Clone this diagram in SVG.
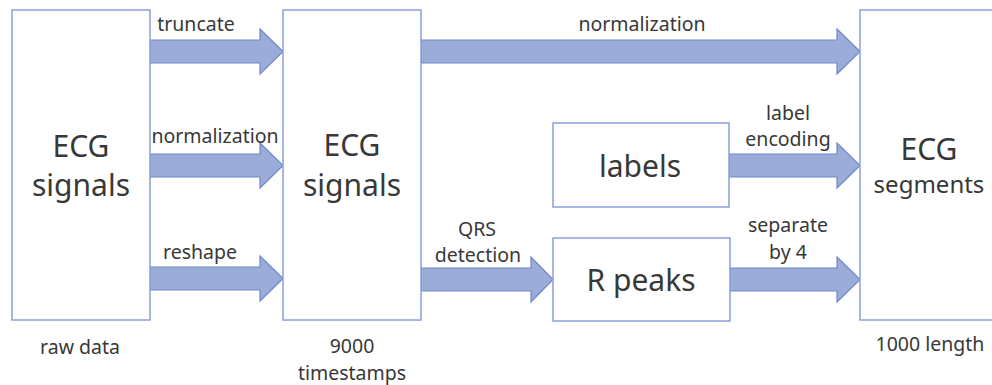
<svg xmlns="http://www.w3.org/2000/svg" width="992" height="385" viewBox="0 0 992 385">
<style>
.box{fill:#ffffff;stroke:#8a9fdb;stroke-width:1.5}
.arr{fill:#9cacd9;stroke:#6f88c9;stroke-width:1.2;stroke-linejoin:miter}
text{font-family:"Noto Sans","Open Sans","DejaVu Sans",sans-serif;fill:#383838;text-anchor:middle}
.big{font-size:30px}
.mid{font-size:24px}
.sm{font-size:19.5px}
</style>
<rect width="992" height="385" fill="#ffffff"/>
<g id="connectors">
<path class="arr" d="M150,40 H260 V29 L283,51.5 L260,74 V63 H150 Z"/>
<path class="arr" d="M150,154 H260 V143 L283,165.5 L260,188 V177 H150 Z"/>
<path class="arr" d="M150,267 H260 V256 L283,278.5 L260,301 V290 H150 Z"/>
<path class="arr" d="M421,40 H837 V29 L860,51.5 L837,74 V63 H421 Z"/>
<path class="arr" d="M729,154 H837 V143 L860,165.5 L837,188 V177 H729 Z"/>
<path class="arr" d="M730,268 H837 V257 L860,279.5 L837,302 V291 H730 Z"/>
<path class="arr" d="M421,268 H531 V257 L553,279.5 L531,302 V291 H421 Z"/>
<text class="sm" x="196" y="31">truncate</text>
<text class="sm" x="215" y="143">normalization</text>
<text class="sm" x="200" y="259">reshape</text>
<text class="sm" x="642" y="31">normalization</text>
<text class="sm" x="788" y="120">label</text>
<text class="sm" x="788" y="146">encoding</text>
<text class="sm" x="788" y="232">separate</text>
<text class="sm" x="788" y="259">by 4</text>
<text class="sm" x="477" y="236">QRS</text>
<text class="sm" x="478" y="262">detection</text>
</g>
<g id="raw">
<rect class="box" x="12" y="10" width="138" height="310"/>
<text class="big" x="81" y="157">ECG</text>
<text class="big" x="81" y="196">signals</text>
<text class="sm" x="80" y="354">raw data</text>
</g>
<g id="signals">
<rect class="box" x="283" y="10" width="138" height="310"/>
<text class="big" x="352" y="156">ECG</text>
<text class="big" x="352" y="196">signals</text>
<text class="sm" x="352" y="353">9000</text>
<text class="sm" x="352" y="380">timestamps</text>
</g>
<g id="labels">
<rect class="box" x="553" y="123" width="176" height="84"/>
<text class="big" x="640" y="177">labels</text>
</g>
<g id="rpeaks">
<rect class="box" x="553" y="238" width="177" height="83"/>
<text class="big" x="641" y="291">R peaks</text>
</g>
<g id="segments">
<rect class="box" x="860" y="10" width="140" height="310"/>
<text class="big" x="929" y="160">ECG</text>
<text class="mid" x="929" y="193">segments</text>
<text class="sm" x="930" y="351">1000 length</text>
</g>
</svg>
